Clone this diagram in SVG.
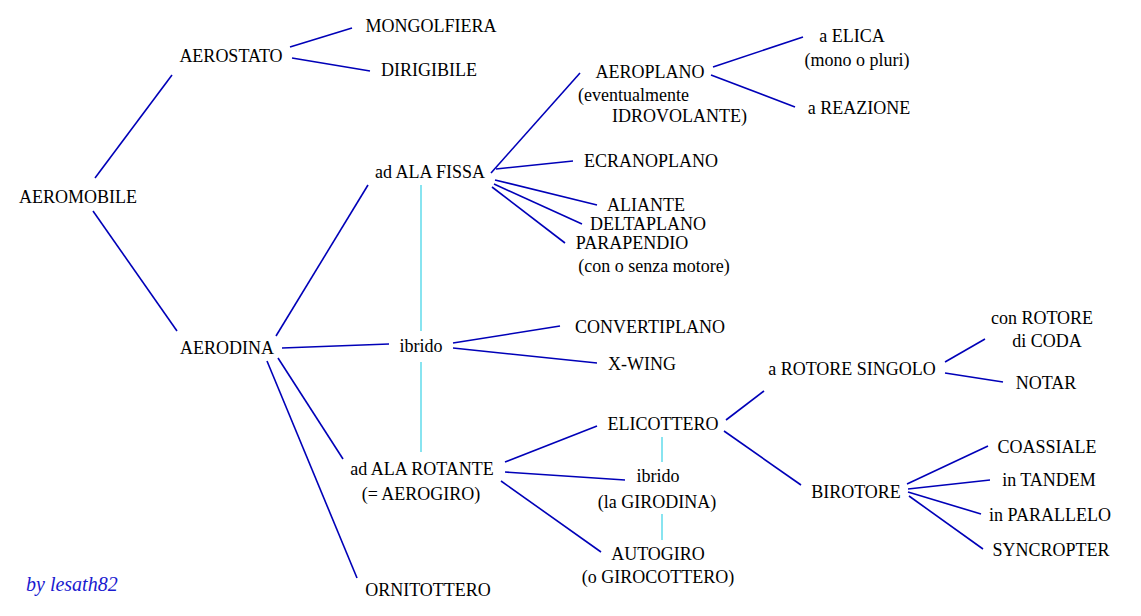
<svg xmlns="http://www.w3.org/2000/svg" width="1141" height="616" viewBox="0 0 1141 616" font-family="Liberation Serif, Times New Roman, serif">
<style>
text{font-family:Liberation Serif, Times New Roman, serif;font-size:18px;fill:#000;text-anchor:middle}
.s{text-anchor:start}
.c line{stroke:#0000b8;stroke-width:1.6}
.c line.h{stroke:#88e4f0;stroke-width:2}
.sig{font-style:italic;fill:#1a1ad0;font-size:20px;text-anchor:start}
</style>
<rect width="1141" height="616" fill="#fff"/>
<g class="c" id="connectors">
<line x1="95" y1="178" x2="172" y2="75"/>
<line x1="93" y1="211" x2="177" y2="331"/>
<line x1="290" y1="47" x2="352" y2="28"/>
<line x1="292" y1="58" x2="370" y2="71"/>
<line x1="276" y1="336" x2="368" y2="185"/>
<line x1="282" y1="348" x2="389" y2="344"/>
<line x1="278" y1="358" x2="343" y2="459"/>
<line x1="267" y1="361" x2="357" y2="578"/>
<line class="h" x1="421" y1="185" x2="421" y2="331"/>
<line class="h" x1="421" y1="362" x2="421" y2="452"/>
<line x1="491" y1="173" x2="580" y2="73"/>
<line x1="496" y1="169" x2="573" y2="161"/>
<line x1="495" y1="180" x2="597" y2="205"/>
<line x1="494" y1="184" x2="582" y2="224"/>
<line x1="492" y1="187" x2="565" y2="243"/>
<line x1="713" y1="67" x2="803" y2="37"/>
<line x1="711" y1="75" x2="795" y2="107"/>
<line x1="453" y1="343" x2="560" y2="326"/>
<line x1="453" y1="348" x2="597" y2="363"/>
<line x1="505" y1="462" x2="597" y2="426"/>
<line x1="505" y1="472" x2="625" y2="480"/>
<line x1="501" y1="481" x2="601" y2="552"/>
<line class="h" x1="662" y1="437" x2="662" y2="462"/>
<line class="h" x1="662" y1="514" x2="662" y2="540"/>
<line x1="726" y1="420" x2="764" y2="391"/>
<line x1="724" y1="431" x2="801" y2="485"/>
<line x1="945" y1="362" x2="985" y2="339"/>
<line x1="945" y1="373" x2="1003" y2="382"/>
<line x1="907" y1="484" x2="988" y2="446"/>
<line x1="908" y1="489" x2="990" y2="480"/>
<line x1="908" y1="492" x2="981" y2="514"/>
<line x1="909" y1="496" x2="983" y2="549"/>
</g>
<g id="aeromobile"><text x="78" y="203">AEROMOBILE</text></g>
<g id="aerostato"><text x="231" y="62">AEROSTATO</text></g>
<g id="mongolfiera"><text x="431" y="32">MONGOLFIERA</text></g>
<g id="dirigibile"><text x="429" y="76">DIRIGIBILE</text></g>
<g id="aerodina"><text x="227" y="354">AERODINA</text></g>
<g id="alafissa"><text x="430" y="178">ad ALA FISSA</text></g>
<g id="ibrido1"><text x="421" y="352">ibrido</text></g>
<g id="alarotante"><text x="422" y="475">ad ALA ROTANTE</text><text x="421" y="500">(= AEROGIRO)</text></g>
<g id="ornitottero"><text x="428" y="596">ORNITOTTERO</text></g>
<g id="aeroplano"><text x="650" y="78">AEROPLANO</text><text class="s" x="578" y="101">(eventualmente</text><text class="s" x="612" y="122">IDROVOLANTE)</text></g>
<g id="aelica"><text x="852" y="42">a ELICA</text><text x="857" y="66">(mono o pluri)</text></g>
<g id="areazione"><text x="859" y="114">a REAZIONE</text></g>
<g id="ecranoplano"><text x="651" y="167">ECRANOPLANO</text></g>
<g id="aliante"><text x="646" y="211">ALIANTE</text></g>
<g id="deltaplano"><text x="648" y="230">DELTAPLANO</text></g>
<g id="parapendio"><text x="632" y="249">PARAPENDIO</text><text x="654" y="272">(con o senza motore)</text></g>
<g id="convertiplano"><text x="650" y="333">CONVERTIPLANO</text></g>
<g id="xwing"><text x="642" y="370">X-WING</text></g>
<g id="elicottero"><text x="663" y="430">ELICOTTERO</text></g>
<g id="ibrido2"><text x="658" y="482">ibrido</text><text x="657" y="508">(la GIRODINA)</text></g>
<g id="autogiro"><text x="658" y="560">AUTOGIRO</text><text x="658" y="583">(o GIROCOTTERO)</text></g>
<g id="rotoresingolo"><text x="852" y="375">a ROTORE SINGOLO</text></g>
<g id="rotorecoda"><text x="1042" y="324">con ROTORE</text><text x="1047" y="347">di CODA</text></g>
<g id="notar"><text x="1046" y="389">NOTAR</text></g>
<g id="birotore"><text x="856" y="498">BIROTORE</text></g>
<g id="coassiale"><text x="1047" y="453">COASSIALE</text></g>
<g id="tandem"><text x="1049" y="486">in TANDEM</text></g>
<g id="parallelo"><text x="1050" y="521">in PARALLELO</text></g>
<g id="syncropter"><text x="1051" y="556">SYNCROPTER</text></g>
<text class="sig" x="26" y="591">by lesath82</text>
</svg>
